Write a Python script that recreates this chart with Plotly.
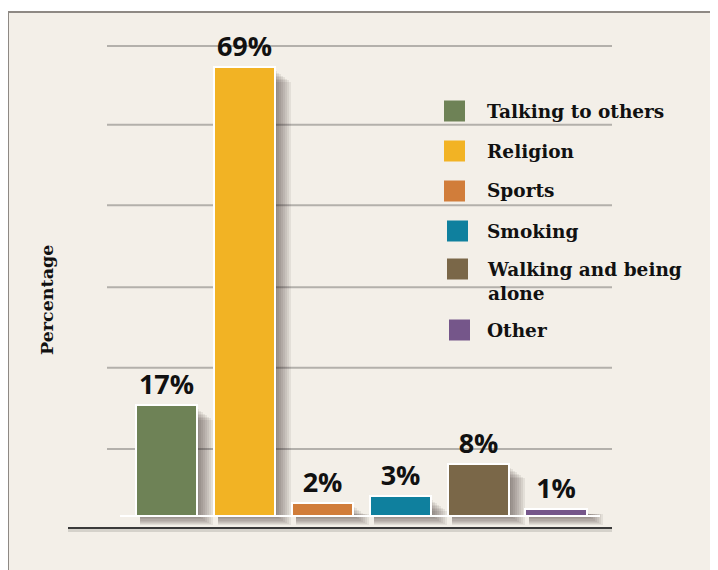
import plotly.graph_objects as go

categories = ['Talking to others', 'Religion', 'Sports', 'Smoking', 'Walking and being alone', 'Other']
legend_labels = ['Talking to others', 'Religion', 'Sports', 'Smoking', 'Walking and being<br>alone', 'Other']
values = [17, 69, 2, 3, 8, 1]
colors = ['#6e8256', '#f2b324', '#d17d3a', '#0f809e', '#7a6748', '#75568a']
grid_vals = [10.3, 22.8, 35.2, 47.8, 60.2, 72.3]

# page is offset by the 8px body margin, so work in page pixels and shift
OFF = 8
W, H = 718 - OFF, 570 - OFF
L, R, T, B = 68 - OFF, 106, 20 - OFF, 43
pw, ph = W - L - R, H - T - B
BW = 0.785          # bar width (category units)
UX = pw / 6.99      # px per category unit
UY = ph / 78.0      # px per percent


def px(x):
    return (x - OFF - L) / pw


def py(y):
    return (H - B - (y - OFF)) / ph


xs = list(range(len(values)))
fig = go.Figure()

# blurred drop shadow: stacked translucent layers offset to the right/below
for k in range(8):
    r = 2 + 2 * k
    w = BW + (r - 4) / UX
    fig.add_trace(go.Bar(
        x=[x + (4 + r) / 2 / UX for x in xs],
        y=[max(v - (4 + 1.5 * k) / UY, 0.3) + (1 + 1.2 * k) / UY for v in values],
        base=-(1 + 1.2 * k) / UY, width=w,
        marker=dict(color='rgba(35,30,25,0.075)', line=dict(width=0)),
        hoverinfo='skip', showlegend=False,
    ))

fig.add_trace(go.Bar(
    x=xs, y=values, width=BW,
    marker=dict(color=colors, line=dict(color='white', width=2)),
    text=[f'<b>{v}%</b>' for v in values], textposition='outside',
    textfont=dict(family='Liberation Sans Narrow, Open Sans, sans-serif', size=27, color='#111'),
    cliponaxis=False, showlegend=False,
))

shapes = [
    # beige framed panel
    dict(type='rect', xref='paper', yref='paper', x0=px(8), x1=px(730), y0=py(12), y1=py(580),
         fillcolor='#f3efe8', line=dict(color='#8e8984', width=2), layer='below'),
]
for g in grid_vals:
    shapes.append(dict(type='line', xref='paper', yref='y', x0=px(107), x1=px(612), y0=g, y1=g,
                       line=dict(color='#b3b0ab', width=2), layer='below'))
shapes.append(dict(type='line', xref='paper', yref='y', x0=px(120), x1=px(600), y0=0, y1=0,
                   line=dict(color='white', width=2)))
# shadow under axis line
shapes.append(dict(type='line', xref='paper', yref='paper', x0=0, x1=1, y0=py(530), y1=py(530),
                   line=dict(color='rgba(0,0,0,0.12)', width=4), layer='below'))

annotations = [
    dict(text='<b>Percentage</b>', xref='paper', yref='paper', x=px(47), y=py(300), textangle=-90,
         showarrow=False, font=dict(family='DejaVu Serif', size=17.5, color='#111'),
         xanchor='center', yanchor='middle'),
]

leg_y = [111, 151, 191, 231, 269, 330]
leg_x = [444, 444, 444, 447, 447, 449]
for lab, c, yy, xx in zip(legend_labels, colors, leg_y, leg_x):
    shapes.append(dict(type='rect', xref='paper', yref='paper', x0=px(xx), x1=px(xx + 21),
                       y0=py(yy + 10.5), y1=py(yy - 10.5), fillcolor=c, line=dict(width=0)))
    multi = '<br>' in lab
    annotations.append(dict(text=f'<b>{lab}</b>', xref='paper', yref='paper', x=px(485),
                            y=py(yy - 12) if multi else py(yy), showarrow=False,
                            xanchor='left', yanchor='top' if multi else 'middle',
                            align='left', font=dict(family='DejaVu Serif', size=18.5, color='#111')))

fig.update_layout(
    width=W, height=H,
    margin=dict(l=L, r=R, t=T, b=B),
    paper_bgcolor='white', plot_bgcolor='rgba(0,0,0,0)',
    barmode='overlay', bargap=0,
    shapes=shapes, annotations=annotations,
    xaxis=dict(range=[-1.27, 5.72], showticklabels=False, showgrid=False, zeroline=False,
               showline=True, linecolor='#3a3a3a', linewidth=2, ticks=''),
    yaxis=dict(range=[-1.7, 76.3], showticklabels=False, showgrid=False, zeroline=False,
               showline=False, ticks=''),
    font=dict(family='DejaVu Serif'),
)

fig.write_html('out.html')
